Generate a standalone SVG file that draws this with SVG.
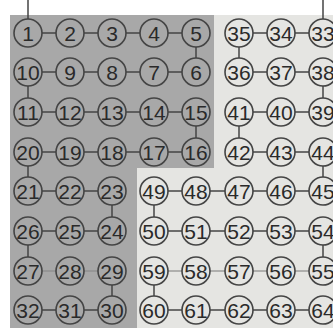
<svg xmlns="http://www.w3.org/2000/svg" width="333" height="328" viewBox="0 0 333 328">
<defs>
<style>
.n circle{fill:none;stroke:#444;stroke-width:1.6}
.n text{font-family:"Liberation Sans",Arial,sans-serif;font-size:21px;fill:#2a2a2a;text-anchor:middle}
.c line{stroke:#444;stroke-width:1.5}
.c line.l{stroke:#8a8a8a;stroke-width:1.2}
</style>
</defs>
<rect x="0" y="0" width="333" height="328" fill="#ffffff"/>
<path d="M10 15 H214 V168 H137 V328 H10 Z" fill="#a8a8a8"/>
<path d="M214 15 H333 V328 H137 V168 H214 Z" fill="#e5e5e2"/>
<g id="connectors" class="c">
<line x1="28" y1="0" x2="28" y2="19"/>
<line x1="323" y1="0" x2="323" y2="19"/>
<line x1="42" y1="33" x2="56" y2="33"/><line x1="84" y1="33" x2="98" y2="33"/><line x1="126" y1="33" x2="140" y2="33"/><line x1="168" y1="33" x2="182" y2="33"/>
<line x1="253" y1="33" x2="267" y2="33"/><line x1="295" y1="33" x2="309" y2="33"/>
<line x1="42" y1="72" x2="56" y2="72"/><line x1="84" y1="72" x2="98" y2="72"/><line x1="126" y1="72" x2="140" y2="72"/><line x1="168" y1="72" x2="182" y2="72"/>
<line x1="253" y1="72" x2="267" y2="72"/><line x1="295" y1="72" x2="309" y2="72"/>
<line x1="42" y1="112" x2="56" y2="112"/><line x1="84" y1="112" x2="98" y2="112"/><line x1="126" y1="112" x2="140" y2="112"/><line x1="168" y1="112" x2="182" y2="112"/>
<line x1="253" y1="112" x2="267" y2="112"/><line x1="295" y1="112" x2="309" y2="112"/>
<line x1="42" y1="152" x2="56" y2="152"/><line x1="84" y1="152" x2="98" y2="152"/><line x1="126" y1="152" x2="140" y2="152"/><line x1="168" y1="152" x2="182" y2="152"/>
<line x1="253" y1="152" x2="267" y2="152"/><line x1="295" y1="152" x2="309" y2="152"/>
<line x1="42" y1="191" x2="56" y2="191"/><line x1="84" y1="191" x2="98" y2="191"/>
<line x1="168" y1="191" x2="182" y2="191"/><line x1="210" y1="191" x2="225" y2="191"/><line x1="253" y1="191" x2="267" y2="191"/><line x1="295" y1="191" x2="309" y2="191"/>
<line x1="42" y1="231" x2="56" y2="231"/><line x1="84" y1="231" x2="98" y2="231"/>
<line x1="168" y1="231" x2="182" y2="231"/><line x1="210" y1="231" x2="225" y2="231"/><line x1="253" y1="231" x2="267" y2="231"/><line x1="295" y1="231" x2="309" y2="231"/>
<line class="l" x1="42" y1="271" x2="56" y2="271"/><line class="l" x1="84" y1="271" x2="98" y2="271"/>
<line class="l" x1="168" y1="271" x2="182" y2="271"/><line class="l" x1="210" y1="271" x2="225" y2="271"/><line class="l" x1="253" y1="271" x2="267" y2="271"/><line class="l" x1="295" y1="271" x2="309" y2="271"/>
<line x1="42" y1="310" x2="56" y2="310"/><line x1="84" y1="310" x2="98" y2="310"/>
<line x1="168" y1="310" x2="182" y2="310"/><line x1="210" y1="310" x2="225" y2="310"/><line x1="253" y1="310" x2="267" y2="310"/><line x1="295" y1="310" x2="309" y2="310"/>
<line x1="196" y1="47" x2="196" y2="58"/>
<line x1="28" y1="86" x2="28" y2="98"/>
<line x1="196" y1="126" x2="196" y2="138"/>
<line x1="28" y1="166" x2="28" y2="177"/>
<line x1="112" y1="205" x2="112" y2="217"/>
<line x1="28" y1="245" x2="28" y2="257"/>
<line x1="112" y1="285" x2="112" y2="296"/>
<line x1="239" y1="47" x2="239" y2="58"/>
<line x1="323" y1="86" x2="323" y2="98"/>
<line x1="239" y1="126" x2="239" y2="138"/>
<line x1="323" y1="166" x2="323" y2="177"/>
<line x1="154" y1="205" x2="154" y2="217"/>
<line x1="323" y1="245" x2="323" y2="257"/>
<line x1="154" y1="285" x2="154" y2="296"/>
</g>
<g class="n">
<g id="n1"><circle cx="28" cy="33" r="14"/><text x="28" y="40.5">1</text></g>
<g id="n2"><circle cx="70" cy="33" r="14"/><text x="70" y="40.5">2</text></g>
<g id="n3"><circle cx="112" cy="33" r="14"/><text x="112" y="40.5">3</text></g>
<g id="n4"><circle cx="154" cy="33" r="14"/><text x="154" y="40.5">4</text></g>
<g id="n5"><circle cx="196" cy="33" r="14"/><text x="196" y="40.5">5</text></g>
<g id="n35"><circle cx="239" cy="33" r="14"/><text x="239" y="40.5">35</text></g>
<g id="n34"><circle cx="281" cy="33" r="14"/><text x="281" y="40.5">34</text></g>
<g id="n33"><circle cx="323" cy="33" r="14"/><text x="323" y="40.5">33</text></g>

<g id="n10"><circle cx="28" cy="72" r="14"/><text x="28" y="79.5">10</text></g>
<g id="n9"><circle cx="70" cy="72" r="14"/><text x="70" y="79.5">9</text></g>
<g id="n8"><circle cx="112" cy="72" r="14"/><text x="112" y="79.5">8</text></g>
<g id="n7"><circle cx="154" cy="72" r="14"/><text x="154" y="79.5">7</text></g>
<g id="n6"><circle cx="196" cy="72" r="14"/><text x="196" y="79.5">6</text></g>
<g id="n36"><circle cx="239" cy="72" r="14"/><text x="239" y="79.5">36</text></g>
<g id="n37"><circle cx="281" cy="72" r="14"/><text x="281" y="79.5">37</text></g>
<g id="n38"><circle cx="323" cy="72" r="14"/><text x="323" y="79.5">38</text></g>

<g id="n11"><circle cx="28" cy="112" r="14"/><text x="28" y="119.5">11</text></g>
<g id="n12"><circle cx="70" cy="112" r="14"/><text x="70" y="119.5">12</text></g>
<g id="n13"><circle cx="112" cy="112" r="14"/><text x="112" y="119.5">13</text></g>
<g id="n14"><circle cx="154" cy="112" r="14"/><text x="154" y="119.5">14</text></g>
<g id="n15"><circle cx="196" cy="112" r="14"/><text x="196" y="119.5">15</text></g>
<g id="n41"><circle cx="239" cy="112" r="14"/><text x="239" y="119.5">41</text></g>
<g id="n40"><circle cx="281" cy="112" r="14"/><text x="281" y="119.5">40</text></g>
<g id="n39"><circle cx="323" cy="112" r="14"/><text x="323" y="119.5">39</text></g>

<g id="n20"><circle cx="28" cy="152" r="14"/><text x="28" y="159.5">20</text></g>
<g id="n19"><circle cx="70" cy="152" r="14"/><text x="70" y="159.5">19</text></g>
<g id="n18"><circle cx="112" cy="152" r="14"/><text x="112" y="159.5">18</text></g>
<g id="n17"><circle cx="154" cy="152" r="14"/><text x="154" y="159.5">17</text></g>
<g id="n16"><circle cx="196" cy="152" r="14"/><text x="196" y="159.5">16</text></g>
<g id="n42"><circle cx="239" cy="152" r="14"/><text x="239" y="159.5">42</text></g>
<g id="n43"><circle cx="281" cy="152" r="14"/><text x="281" y="159.5">43</text></g>
<g id="n44"><circle cx="323" cy="152" r="14"/><text x="323" y="159.5">44</text></g>

<g id="n21"><circle cx="28" cy="191" r="14"/><text x="28" y="198.5">21</text></g>
<g id="n22"><circle cx="70" cy="191" r="14"/><text x="70" y="198.5">22</text></g>
<g id="n23"><circle cx="112" cy="191" r="14"/><text x="112" y="198.5">23</text></g>
<g id="n49"><circle cx="154" cy="191" r="14"/><text x="154" y="198.5">49</text></g>
<g id="n48"><circle cx="196" cy="191" r="14"/><text x="196" y="198.5">48</text></g>
<g id="n47"><circle cx="239" cy="191" r="14"/><text x="239" y="198.5">47</text></g>
<g id="n46"><circle cx="281" cy="191" r="14"/><text x="281" y="198.5">46</text></g>
<g id="n45"><circle cx="323" cy="191" r="14"/><text x="323" y="198.5">45</text></g>

<g id="n26"><circle cx="28" cy="231" r="14"/><text x="28" y="238.5">26</text></g>
<g id="n25"><circle cx="70" cy="231" r="14"/><text x="70" y="238.5">25</text></g>
<g id="n24"><circle cx="112" cy="231" r="14"/><text x="112" y="238.5">24</text></g>
<g id="n50"><circle cx="154" cy="231" r="14"/><text x="154" y="238.5">50</text></g>
<g id="n51"><circle cx="196" cy="231" r="14"/><text x="196" y="238.5">51</text></g>
<g id="n52"><circle cx="239" cy="231" r="14"/><text x="239" y="238.5">52</text></g>
<g id="n53"><circle cx="281" cy="231" r="14"/><text x="281" y="238.5">53</text></g>
<g id="n54"><circle cx="323" cy="231" r="14"/><text x="323" y="238.5">54</text></g>

<g id="n27"><circle cx="28" cy="271" r="14"/><text x="28" y="278.5">27</text></g>
<g id="n28"><circle cx="70" cy="271" r="14"/><text x="70" y="278.5">28</text></g>
<g id="n29"><circle cx="112" cy="271" r="14"/><text x="112" y="278.5">29</text></g>
<g id="n59"><circle cx="154" cy="271" r="14"/><text x="154" y="278.5">59</text></g>
<g id="n58"><circle cx="196" cy="271" r="14"/><text x="196" y="278.5">58</text></g>
<g id="n57"><circle cx="239" cy="271" r="14"/><text x="239" y="278.5">57</text></g>
<g id="n56"><circle cx="281" cy="271" r="14"/><text x="281" y="278.5">56</text></g>
<g id="n55"><circle cx="323" cy="271" r="14"/><text x="323" y="278.5">55</text></g>

<g id="n32"><circle cx="28" cy="310" r="14"/><text x="28" y="317.5">32</text></g>
<g id="n31"><circle cx="70" cy="310" r="14"/><text x="70" y="317.5">31</text></g>
<g id="n30"><circle cx="112" cy="310" r="14"/><text x="112" y="317.5">30</text></g>
<g id="n60"><circle cx="154" cy="310" r="14"/><text x="154" y="317.5">60</text></g>
<g id="n61"><circle cx="196" cy="310" r="14"/><text x="196" y="317.5">61</text></g>
<g id="n62"><circle cx="239" cy="310" r="14"/><text x="239" y="317.5">62</text></g>
<g id="n63"><circle cx="281" cy="310" r="14"/><text x="281" y="317.5">63</text></g>
<g id="n64"><circle cx="323" cy="310" r="14"/><text x="323" y="317.5">64</text></g>
</g>
</svg>
